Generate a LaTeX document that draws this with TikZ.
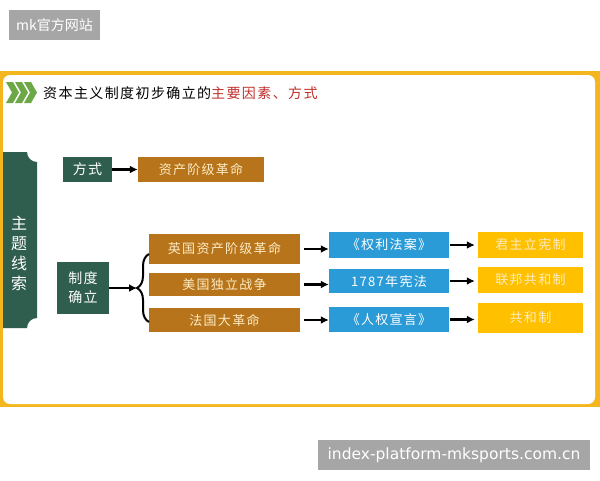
\documentclass[tikz,border=0pt]{standalone}
\usepackage{fontspec}
\usepackage{xcolor}
\usetikzlibrary{arrows.meta,decorations.pathreplacing}

\newfontfamily\cjk[LetterSpace=10]{Noto Sans CJK SC}
\newfontfamily\cjkplain{Noto Sans CJK SC}
\newfontfamily\wmfont{DejaVu Sans}

\definecolor{kuang}{HTML}{F3B61F}
\definecolor{zhuti}{HTML}{2F5E4F}
\definecolor{hese}{HTML}{B7741A}
\definecolor{lanse}{HTML}{2B9BD8}
\definecolor{huang}{HTML}{FFC000}
\definecolor{jiantoulv}{HTML}{6DA846}
\definecolor{biaohong}{HTML}{C0302D}
\definecolor{qianhuang}{HTML}{FCEBC4}
\definecolor{shuiyin}{HTML}{A6A6A6}

\tikzset{
  lvbox/.style={fill=zhuti, text=white, inner sep=0pt, font=\cjk\fontsize{14}{19}\selectfont},
  hebox/.style={fill=hese, text=qianhuang, inner sep=0pt, minimum width=151pt, font=\cjk\fontsize{13}{15}\selectfont},
  lanbox/.style={fill=lanse, text=white, inner sep=0pt, minimum width=120pt, font=\cjk\fontsize{13}{15}\selectfont},
  huangbox/.style={fill=huang, text=qianhuang, inner sep=0pt, minimum width=105pt, font=\cjk\fontsize{13}{15}\selectfont},
  jiantou/.style={-{Latex[length=8pt,width=8pt]}, line width=2.2pt},
  shuiyinbox/.style={fill=shuiyin, text=white, inner sep=0pt},
}

\begin{document}
\begin{tikzpicture}[x=1pt, y=-1pt]
\useasboundingbox (0,0) rectangle (600,480);

% frame
\fill[kuang] (0,71) rectangle (600,407);
\fill[white, rounded corners=7pt] (3,75) rectangle (595,404);

% title
\foreach \i in {0,9,18}
  \fill[jiantoulv] (6+\i,82) -- (13+\i,82) -- (19+\i,92.5) -- (13+\i,103) -- (6+\i,103) -- (12+\i,92.5) -- cycle;
\node[anchor=west, inner sep=0pt, font=\cjk\fontsize{14}{16}\selectfont] (title) at (43,93)
  {资本主义制度初步确立的\textcolor{biaohong}{主要因素、方式}};

% side banner
\fill[zhuti] (3,152) -- (27,152) arc[start angle=180, end angle=90, radius=10]
  -- (37,318) arc[start angle=-90, end angle=-180, radius=10] -- (3,328) -- cycle;
\node[text=white, align=center, inner sep=0pt, font=\cjkplain\fontsize{16}{20}\selectfont] (xiansuo) at (19,253)
  {主\\题\\线\\索};

% nodes
\node[lvbox, minimum width=49pt, minimum height=25pt] (fangshi) at (87.5,169.5) {方式};
\node[hebox, minimum width=126pt, minimum height=25pt] (geming) at (201,169.5) {资产阶级革命};

\node[lvbox, minimum width=52pt, minimum height=52pt, align=center] (zhidu) at (83,288) {制度\\确立};

\node[hebox, minimum height=30pt] (yingguo) at (224.5,249) {英国资产阶级革命};
\node[hebox, minimum height=23pt] (meiguo) at (224.5,284.5) {美国独立战争};
\node[hebox, minimum height=24pt] (faguo) at (224.5,320) {法国大革命};

\node[lanbox, minimum height=26pt] (quanli) at (389,245) {《权利法案》};
\node[lanbox, minimum height=24pt] (xianfa) at (389,281) {1787年宪法};
\node[lanbox, minimum height=25pt] (renquan) at (389,319.5) {《人权宣言》};

\node[huangbox, minimum height=26pt] (junzhu) at (530.5,245) {君主立宪制};
\node[huangbox, minimum height=26pt] (lianbang) at (530.5,280) {联邦共和制};
\node[huangbox, minimum height=30pt] (gonghe) at (530.5,318) {共和制};

% brace
\coordinate (kuohaoding) at (149,254);
\coordinate (kuohaodi) at (149,322);
\coordinate (kuohaojian) at (137,288);
\draw[line width=2pt, decorate, decoration={brace, amplitude=12pt}] (kuohaodi) -- (kuohaoding);

% arrows
\draw[jiantou] (fangshi) -- (geming);
\draw[jiantou] (zhidu) -- (kuohaojian);
\draw[jiantou, shorten <=4pt] (yingguo.east) -- (yingguo.east -| quanli.west);
\draw[jiantou, shorten <=4pt] (meiguo.east) -- (meiguo.east -| xianfa.west);
\draw[jiantou, shorten <=4pt] (faguo.east) -- (faguo.east -| renquan.west);
\draw[jiantou, shorten <=1pt, shorten >=3pt] (quanli.east) -- (quanli.east -| junzhu.west);
\draw[jiantou, shorten <=1pt, shorten >=3pt] (xianfa.east) -- (xianfa.east -| lianbang.west);
\draw[jiantou, shorten <=1pt, shorten >=3pt] (renquan.east) -- (renquan.east -| gonghe.west);

% watermarks
\node[shuiyinbox, minimum width=91pt, minimum height=30pt, font=\cjkplain\fontsize{14}{16}\selectfont] (shuiyin1) at (54.5,25) {mk官方网站};
\node[shuiyinbox, minimum width=272pt, minimum height=30pt, font=\wmfont\fontsize{15.5}{18}\selectfont] (shuiyin2) at (454,455) {index-platform-mksports.com.cn};

\end{tikzpicture}
\end{document}
